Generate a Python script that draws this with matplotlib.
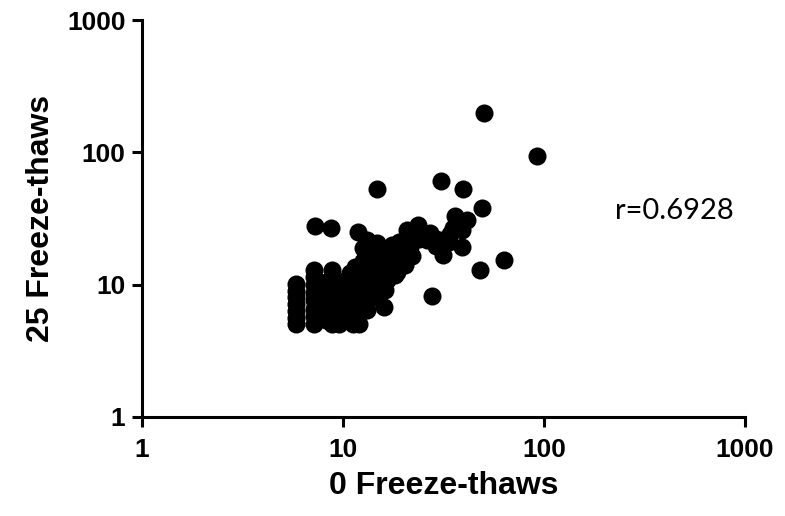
import matplotlib
matplotlib.use("Agg")
import matplotlib.pyplot as plt

# Antibody titres after 0 and 25 freeze-thaw cycles (paired samples)
freeze_0 = [
    # scattered high values
    50.3, 92.3, 30.7, 39.5, 14.8, 49.2, 63.2, 48.1, 27.7, 7.25, 8.7,
    # upper-right clump
    36.1, 41.3, 38.9, 35.3, 38.9,
    # diagonal band
    11.9, 20.7, 23.7, 27.1, 30.4, 31.6, 13.1, 12.5, 14.8, 15.3, 18.5, 21.6,
    26.2, 17.2, 20.0, 16.5, 14.7, 13.6, 13.1, 14.1, 15.9, 13.6, 10.8, 11.7,
    18.0, 22.5, 24.5, 19.0, 16.5, 17.5, 33.5, 29.0, 20.4, 18.2, 16.2, 14.2,
    13.1, 16.0, 18.5, 15.0, 17.0, 19.5, 22.0, 24.0, 28.5, 34.0, 14.0, 12.5,
    11.5, 13.8,
    # dense low cluster
    5.8, 5.8, 5.8, 5.8, 5.8, 5.8, 5.8,
    7.2, 7.2, 7.2, 7.2, 7.2, 7.2, 7.2, 7.2,
    7.8, 7.8,
    8.8, 8.8, 8.8, 8.8, 8.8, 8.8, 8.8,
    8.2, 8.2, 8.2,
    9.6, 9.6, 9.6, 9.6,
    10.4, 10.4, 10.4, 10.4,
    11.2, 11.2, 11.2, 11.2,
    12.0, 12.0, 12.0, 12.0, 12.0,
    12.8, 12.8, 12.8,
]
freeze_25 = [
    198.0, 94.0, 61.0, 53.0, 53.0, 38.0, 15.4, 12.9, 8.2, 27.8, 26.8,
    32.8, 30.9, 25.9, 26.9, 19.2,
    25.2, 25.9, 28.3, 24.5, 21.8, 16.8, 21.8, 19.0, 20.5, 18.3, 16.3, 19.4,
    21.8, 13.8, 14.6, 10.9, 9.2, 13.0, 17.3, 14.6, 6.8, 9.7, 12.2, 11.5,
    18.5, 22.5, 24.8, 21.0, 16.5, 20.0, 21.0, 19.5, 14.1, 11.8, 9.1, 8.0,
    6.4, 12.0, 12.5, 10.5, 15.0, 17.0, 16.5, 22.0, 22.5, 24.0, 11.0, 15.0,
    13.5, 16.0,
    5.0, 5.6, 6.3, 7.1, 8.0, 9.0, 10.2,
    5.0, 5.8, 6.6, 7.6, 8.7, 10.0, 11.4, 13.0,
    6.2, 9.3,
    5.0, 5.8, 6.8, 8.0, 9.3, 11.0, 13.0,
    5.4, 7.2, 10.4,
    5.0, 6.2, 7.8, 9.6,
    5.5, 7.0, 8.6, 10.8,
    5.0, 6.3, 8.0, 9.8,
    5.0, 6.0, 7.4, 9.0, 11.2,
    6.6, 8.2, 10.4,
]
decade_ticks = [1, 10, 100, 1000]
decade_labels = ["1", "10", "100", "1000"]
r_text = "r=0.6928"

bold = {"family": ["Liberation Sans", "DejaVu Sans"], "weight": "bold"}

fig = plt.figure(figsize=(7.85, 5.16), dpi=100)
ax = fig.add_axes([0.181, 0.192, 0.768, 0.769])

ax.plot(freeze_0, freeze_25, linestyle="none", marker="o",
        markersize=13, color="black", markeredgewidth=0, clip_on=False)

ax.set_xscale("log")
ax.set_yscale("log")
ax.set_xlim(1, 1000)
ax.set_ylim(1, 1000)
ax.set_xticks(decade_ticks)
ax.set_xticklabels(decade_labels)
ax.set_yticks(decade_ticks)
ax.set_yticklabels(decade_labels)
ax.minorticks_off()

for side in ("top", "right"):
    ax.spines[side].set_visible(False)
for side in ("left", "bottom"):
    ax.spines[side].set_linewidth(2.2)

ax.tick_params(axis="both", which="major", direction="out", length=7,
               width=2.2, color="black")
ax.tick_params(axis="x", pad=8)
ax.tick_params(axis="y", pad=5)
for lab in ax.get_xticklabels() + ax.get_yticklabels():
    lab.set_fontproperties(bold)
    lab.set_fontsize(19)

ax.set_xlabel("0 Freeze-thaws", fontdict=bold, fontsize=23, labelpad=7)
ax.set_ylabel("25 Freeze-thaws", fontdict=bold, fontsize=23, labelpad=8)

ax.text(0.784, 0.519, r_text, transform=ax.transAxes, ha="left", va="center",
        fontsize=21, family=["Lato", "DejaVu Sans"], color="black")

fig.savefig("out.png", dpi=100)
